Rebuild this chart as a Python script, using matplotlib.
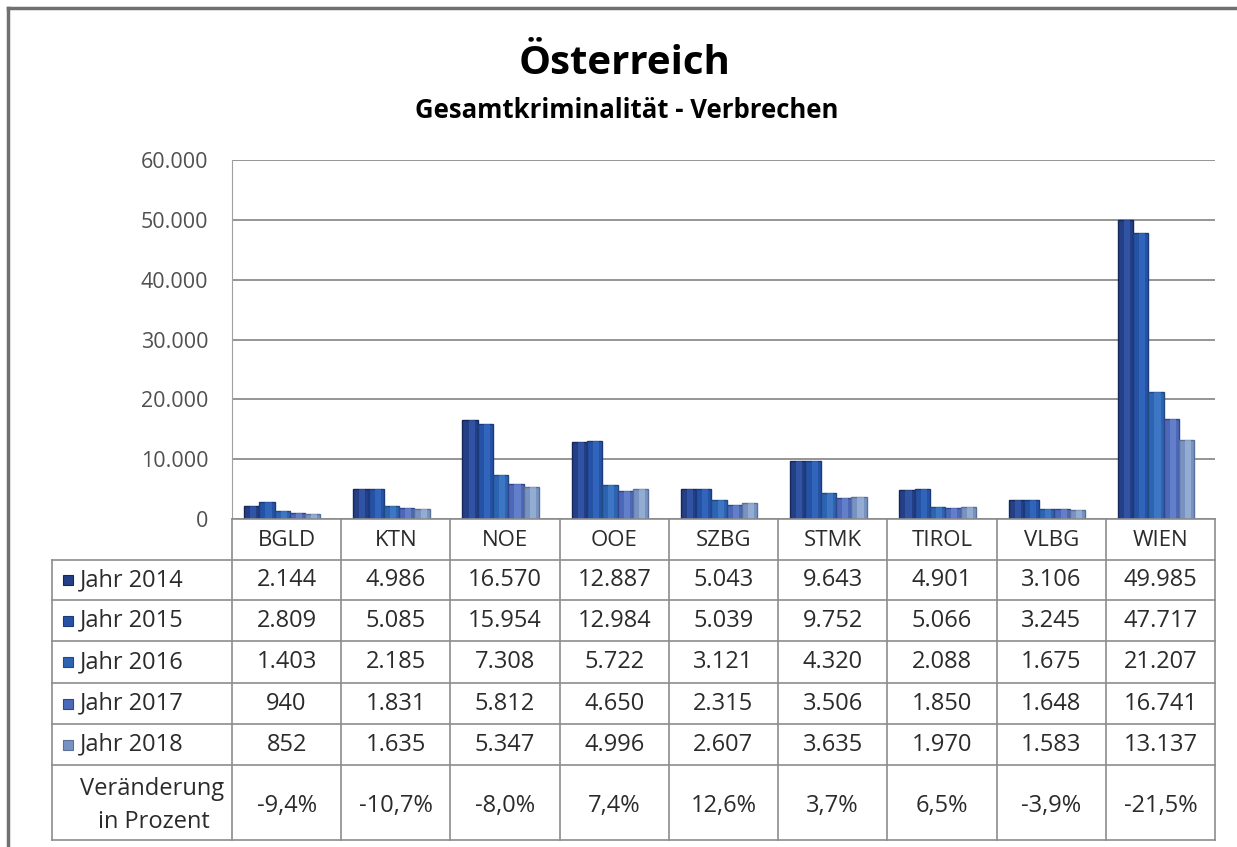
import numpy as np
import matplotlib
matplotlib.use("Agg")
import matplotlib.pyplot as plt
from matplotlib.lines import Line2D
from matplotlib.patches import Rectangle

plt.rcParams['font.family'] = ['Open Sans', 'DejaVu Sans']

# Daten
regionen = ["BGLD", "KTN", "NOE", "OOE", "SZBG", "STMK", "TIROL", "VLBG", "WIEN"]
jahre = ["Jahr 2014", "Jahr 2015", "Jahr 2016", "Jahr 2017", "Jahr 2018"]
werte_2014 = [2144, 4986, 16570, 12887, 5043, 9643, 4901, 3106, 49985]
werte_2015 = [2809, 5085, 15954, 12984, 5039, 9752, 5066, 3245, 47717]
werte_2016 = [1403, 2185, 7308, 5722, 3121, 4320, 2088, 1675, 21207]
werte_2017 = [940, 1831, 5812, 4650, 2315, 3506, 1850, 1648, 16741]
werte_2018 = [852, 1635, 5347, 4996, 2607, 3635, 1970, 1583, 13137]
veraenderung = ["-9,4%", "-10,7%", "-8,0%", "7,4%", "12,6%", "3,7%", "6,5%", "-3,9%", "-21,5%"]
y_ticks = [0, 10000, 20000, 30000, 40000, 50000, 60000]

serien = [werte_2014, werte_2015, werte_2016, werte_2017, werte_2018]
farben = ["#243f86", "#2652a6", "#2c63b2", "#4c68b8", "#7893c2"]
licht = ["#3a62b8", "#3a72cc", "#4a86d0", "#7490d6", "#a6bedd"]
kanten = ["#16285a", "#1a3a7a", "#204a80", "#34468a", "#5a7099"]

W, H = 1237, 847
fig = plt.figure(figsize=(W / 100, H / 100), dpi=100)


def fx(x):
    return x / W


def fy(y):
    return 1 - y / H


# =========================
# Diagramm
# =========================
ax_left, ax_right, ax_top, ax_bot = 232, 1215, 160, 519
ax = fig.add_axes([fx(ax_left), fy(ax_bot), (ax_right - ax_left) / W, (ax_bot - ax_top) / H])

x = np.arange(len(regionen))
breite = 0.14
for i, (werte, f, l, k) in enumerate(zip(serien, farben, licht, kanten)):
    pos = x - 0.04 + (i - 2) * breite
    ax.bar(pos, werte, width=breite, color=f, edgecolor=k, linewidth=1.0, zorder=3)
    # heller Streifen fuer den 3D-Effekt
    ax.bar(pos + 0.1 * breite, werte, width=0.4 * breite, color=l, linewidth=0, alpha=0.6, zorder=4)

ax.set_xlim(-0.5, len(regionen) - 0.5)
ax.set_ylim(0, 60000)
ax.set_yticks(y_ticks)
ax.set_yticklabels([f"{v:,}".replace(",", ".") for v in y_ticks], fontsize=15.5, color="#505050")
ax.set_xticks([])
ax.tick_params(axis="y", length=0, pad=17)
ax.grid(axis="y", color="#8c8c8c", linewidth=1.3, zorder=0)
for s in ["top", "right", "bottom"]:
    ax.spines[s].set_visible(False)
ax.spines["left"].set_color("#a0a0a0")

# Titel
fig.text(fx(625), fy(63), "Österreich", ha="center", va="center", fontsize=29, fontweight="bold")
fig.text(fx(627), fy(110), "Gesamtkriminalität - Verbrechen", ha="center", va="center",
         fontsize=18.5, fontweight="bold")

# =========================
# Datentabelle
# =========================
col_w = (ax_right - ax_left) / len(regionen)
row_y = [519, 560, 600, 641, 683, 724, 765, 840]
tab_left = 52
lc = "#8c8c8c"

# horizontale Linien
fig.add_artist(Line2D([fx(ax_left), fx(ax_right)], [fy(519), fy(519)], color=lc, lw=1.2))
for y in row_y[1:]:
    fig.add_artist(Line2D([fx(tab_left), fx(ax_right)], [fy(y), fy(y)], color=lc, lw=1.2))
# vertikale Linien
for j in range(len(regionen) + 1):
    xx = ax_left + j * col_w
    fig.add_artist(Line2D([fx(xx), fx(xx)], [fy(519), fy(840)], color=lc, lw=1.2))
fig.add_artist(Line2D([fx(tab_left), fx(tab_left)], [fy(560), fy(840)], color=lc, lw=1.2))

txt_col = "#2b2b2b"
fs = 17
for j, r in enumerate(regionen):
    cx = ax_left + (j + 0.5) * col_w
    fig.text(fx(cx), fy(540), r, ha="center", va="center", fontsize=16, color=txt_col)
    for i, werte in enumerate(serien):
        cy = (row_y[i + 1] + row_y[i + 2]) / 2
        fig.text(fx(cx), fy(cy), f"{werte[j]:,}".replace(",", "."), ha="center", va="center",
                 fontsize=fs, color=txt_col)
    fig.text(fx(cx), fy(806), veraenderung[j], ha="center", va="center", fontsize=fs, color=txt_col)

for i, (name, f, k) in enumerate(zip(jahre, farben, kanten)):
    cy = (row_y[i + 1] + row_y[i + 2]) / 2
    fig.add_artist(Rectangle((fx(63), fy(cy + 5)), 10 / W, 10 / H, facecolor=f, edgecolor=k,
                             lw=0.8, transform=fig.transFigure))
    fig.text(fx(80), fy(cy), name, ha="left", va="center", fontsize=fs, color=txt_col)
fig.text(fx(152), fy(789), "Veränderung", ha="center", va="center", fontsize=fs, color=txt_col)
fig.text(fx(154), fy(822), "in Prozent", ha="center", va="center", fontsize=fs, color=txt_col)

# Rahmen
fig.add_artist(Line2D([fx(8), fx(8)], [fy(8), 0], color="#707070", lw=2.5))
fig.add_artist(Line2D([fx(8), 1], [fy(8), fy(8)], color="#707070", lw=2.5))

fig.savefig("out.png", dpi=100)
